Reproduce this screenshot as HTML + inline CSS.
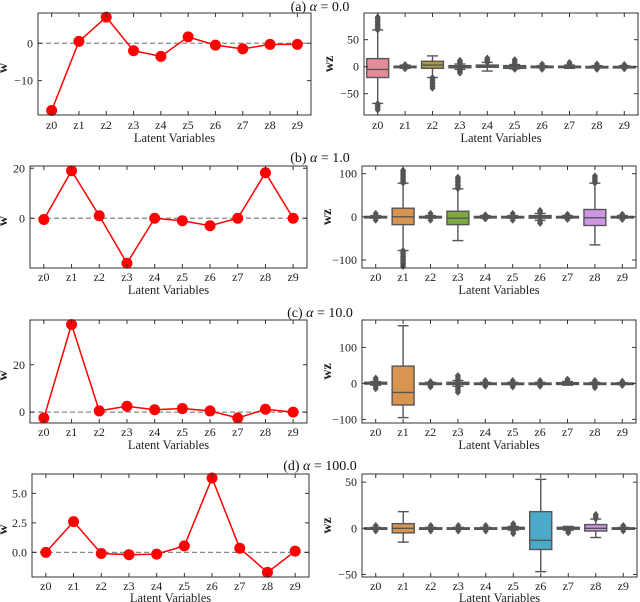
<!DOCTYPE html>
<html><head><meta charset="utf-8"><style>
html,body{margin:0;padding:0;background:#fff}
svg{display:block;font-family:"Liberation Serif",serif}
</style></head><body>
<svg id="fig" width="640" height="602" viewBox="0 0 640 602" xmlns="http://www.w3.org/2000/svg"></svg>
<script>
const categories = ["z0","z1","z2","z3","z4","z5","z6","z7","z8","z9"];
const titlePrefix = ["(a) ","(b) ","(c) ","(d) "];
const titleValues = ["0.0","1.0","10.0","100.0"];
// left panel w values
const wA = [-18, 0.5, 7, -2, -3.5, 1.7, -0.5, -1.5, -0.3, -0.3];
const wB = [-0.5, 19, 1, -18, 0, -1, -3, 0, 18.2, 0];
const wC = [-2.5, 37, 0.5, 2.5, 1, 1.5, 0.5, -2.5, 1.2, 0];
const wD = [0, 2.6, -0.1, -0.2, -0.15, 0.55, 6.3, 0.35, -1.7, 0.1];
const leftTicksA = [0, -10], leftTicksB = [20, 0], leftTicksC = [0, 20], leftTicksD = [0, 2.5, 5];
const leftLabelsD = ["0.0","2.5","5.0"];
// box stats per row: [q1, med, q3, whiskerLo, whiskerHi, flierLo, flierHi]
const boxA = [[-20,-5,15,-68,68,-80,92],[-1,0,1,-3,3,-4,4],[-3,3,10,-20,20,-40,20],[-2,0,2,-5,5,-12,12],[-1,1,3,-8,8,-8,16],[-3,0,2,-4,4,-5,13],[-1,0,1,-2,2,-5,5],[-1,0,1,-3,3,-3,8],[-0.5,0,0.5,-2,2,-5,5],[-0.5,0,0.5,-2,2,-4,4]];
const boxB = [[-1,0,1,-3,3,-8,8],[-18,0,20,-78,78,-115,108],[-1,0,1,-3,3,-8,8],[-18,-3,13,-55,65,-55,92],[-1,0,1,-3,3,-5,5],[-1,0,1,-3,3,-8,8],[-3,0,3,-8,8,-15,15],[-1,0,1,-3,3,-6,6],[-20,-2,17,-65,78,-65,95],[-1,0,1,-3,3,-6,6]];
const boxC = [[-2,0,3,-5,5,-15,15],[-60,-25,48,-95,160,-95,160],[-1,0,1,-3,3,-10,5],[-3,0,3,-8,8,-25,22],[-1,0,1,-3,3,-8,8],[-1,0,1,-3,3,-10,8],[-1,0,1,-3,3,-8,8],[-3,0,2,-5,5,-5,12],[-1,0,1,-3,3,-12,8],[-1,0,1,-2,2,-6,6]];
const boxD = [[-0.5,0,0.5,-1,1,-3,3],[-5,0,5,-15,18,-15,18],[-0.5,0,0.5,-1,1,-3,3],[-0.5,0,0.5,-1,1,-3,3],[-0.5,0,0.5,-1,1,-3,3],[-1,0,1,-2,2,-6,5],[-23,-13,18,-47,53,-47,53],[-1,0,1,-2,2,-5,2],[-3,0,4,-10,10,-10,15],[-0.5,0,0.5,-1,1,-3,3]];
const rightTicksA = [50,0,-50], rightTicksB = [100,0,-100], rightTicksC = [100,0,-100], rightTicksD = [50,0,-50];
const palette = ["#e58c99","#d99450","#ab9c3e","#7dab42","#4aab80","#4aa9a2","#4aaac8","#7d9fe5","#cf95e6","#e57ac8"];

const rows = [
 {title:6, top:13, bot:115, tick:125, xl:138, L:[38,311], R:[364,638], ld:[-19.2,8.1], rd:[-89.4,99.4], w:wA, lt:leftTicksA, box:boxA, rt:rightTicksA},
 {title:157, top:166, bot:268, tick:277, xl:290, L:[30,307], R:[362,636], ld:[-19.9,20.9], rd:[-118.5,117.8], w:wB, lt:leftTicksB, box:boxB, rt:rightTicksB},
 {title:312, top:320, bot:423, tick:432, xl:445, L:[30,307], R:[362,636], ld:[-4.6,38.9], rd:[-110,176], w:wC, lt:leftTicksC, box:boxC, rt:rightTicksC},
 {title:465, top:474, bot:577, tick:586, xl:598, L:[32,309], R:[362,637], ld:[-2.09,6.64], rd:[-52.8,58.8], w:wD, lt:leftTicksD, ltl:leftLabelsD, box:boxD, rt:rightTicksD}
];
const NS="http://www.w3.org/2000/svg";
const svg=document.getElementById('fig');
function mk(tag, attrs, parent){const e=document.createElementNS(NS,tag);for(const k in attrs)e.setAttribute(k,attrs[k]);(parent||svg).appendChild(e);return e;}
function fmt(v){return (v<0?"\u2212":"")+Math.abs(v);}
function xScale(r,i){return r[0]+(i+0.5)*(r[1]-r[0])/categories.length;}
function yScale(d,top,bot,v){return bot-(v-d[0])/(d[1]-d[0])*(bot-top);}

function axesFrame(g,x0,x1,top,bot,d,ticks,labels,row){
  const fr=mk('rect',{x:x0,y:top,width:x1-x0,height:bot-top,fill:'none',stroke:'#333','stroke-width':1},g);
  
  
  categories.forEach((c,i)=>{
    const x=xScale([x0,x1],i);
    mk('line',{x1:x,x2:x,y1:bot,y2:bot-4,stroke:'#333'},g);
    mk('line',{x1:x,x2:x,y1:top,y2:top+4,stroke:'#333'},g);
    const t=mk('text',{x:x,y:row.tick+4,'text-anchor':'middle','font-size':12,fill:'#222'},g);
    t.textContent=c;
    
    
  });
  ticks.forEach((v,k)=>{
    const y=yScale(d,top,bot,v);
    mk('line',{x1:x0,x2:x0+4,y1:y,y2:y,stroke:'#333'},g);
    mk('line',{x1:x1,x2:x1-4,y1:y,y2:y,stroke:'#333'},g);
    const t=mk('text',{x:x0-5,y:y+4,'text-anchor':'end','font-size':12,fill:'#222'},g);
    t.textContent=labels?labels[k]:fmt(v);
    
    
  });
  const xl=mk('text',{x:(x0+x1)/2,y:row.xl+4,'text-anchor':'middle','font-size':12.5,fill:'#222'},g);
  xl.textContent='Latent Variables';
  
  
}

rows.forEach((row,ri)=>{
  const tt=mk('text',{x:320,y:row.title+5,'text-anchor':'middle','font-size':14,fill:'#111'});
  
  
  const s1=mk('tspan',{},tt); s1.textContent=titlePrefix[ri];
  const s2=mk('tspan',{'font-style':'italic'},tt); s2.textContent='\u03B1';
  const s3=mk('tspan',{},tt); s3.textContent=' = '+titleValues[ri];
  // left panel
  const g=mk('g',{});
  
  
  const [x0,x1]=row.L, d=row.ld;
  const y0=yScale(d,row.top,row.bot,0);
  const zl=mk('line',{x1:x0,x2:x1,y1:y0,y2:y0,stroke:'#888','stroke-width':1.2,'stroke-dasharray':'5,3'},g);
  
  
  const pts=row.w.map((v,i)=>xScale(row.L,i)+','+yScale(d,row.top,row.bot,v)).join(' ');
  const pl=mk('polyline',{points:pts,fill:'none',stroke:'#f00','stroke-width':1.5},g);
  
  
  row.w.forEach((v,i)=>{
    const c=mk('circle',{cx:xScale(row.L,i),cy:yScale(d,row.top,row.bot,v),r:5.5,fill:'#f00'},g);
    
    
  });
  axesFrame(g,x0,x1,row.top,row.bot,d,row.lt,row.ltl,row);
  const yl=mk('text',{x:0,y:0,'text-anchor':'middle','font-size':14,'font-weight':'bold',fill:'#222',transform:`translate(7,${(row.top+row.bot)/2+4}) rotate(-90)`},g);
  yl.textContent='w';
  
  
  // right panel
  const g2=mk('g',{});
  
  
  const [r0,r1]=row.R, rd=row.rd;
  const Y=v=>yScale(rd,row.top,row.bot,v);
  const bw=(r1-r0)/10*0.8;
  row.box.forEach((b,i)=>{
    const cx=xScale(row.R,i);
    const [q1,med,q3,wl,wh,fl,fh]=b;
    const bg=mk('g',{},g2);
    
    
    const st='#555';
    mk('line',{x1:cx,x2:cx,y1:Y(wh),y2:Y(q3),stroke:st,'stroke-width':1.4},bg);
    mk('line',{x1:cx,x2:cx,y1:Y(q1),y2:Y(wl),stroke:st,'stroke-width':1.4},bg);
    mk('line',{x1:cx-bw/4,x2:cx+bw/4,y1:Y(wh),y2:Y(wh),stroke:st,'stroke-width':1.4},bg);
    mk('line',{x1:cx-bw/4,x2:cx+bw/4,y1:Y(wl),y2:Y(wl),stroke:st,'stroke-width':1.4},bg);
    const h=Math.max(Y(q1)-Y(q3),1.5);
    mk('rect',{x:cx-bw/2,y:Y(q3),width:bw,height:h,fill:palette[i],stroke:st,'stroke-width':1.4},bg);
    mk('line',{x1:cx-bw/2,x2:cx+bw/2,y1:Y(med),y2:Y(med),stroke:st,'stroke-width':1.4},bg);
    const diamonds=(a,bv)=>{
      const ya=Y(a), yb=Y(bv); const n=Math.max(1,Math.round(Math.abs(yb-ya)/1.5));
      for(let k=0;k<=n;k++){const y=ya+(yb-ya)*k/n;
        mk('polygon',{points:`${cx},${y-3.5} ${cx+3},${y} ${cx},${y+3.5} ${cx-3},${y}`,fill:st},bg);}
    };
    if(fh>wh) diamonds(wh,fh);
    if(fl<wl) diamonds(wl,fl);
  });
  axesFrame(g2,r0,r1,row.top,row.bot,rd,row.rt,null,row);
  const yl2=mk('text',{x:0,y:0,'text-anchor':'middle','font-size':14,'font-weight':'bold',fill:'#222',transform:`translate(${r0-31},${(row.top+row.bot)/2}) rotate(-90)`},g2);
  yl2.textContent='wz';
  
  
});
</script>
</body></html>
